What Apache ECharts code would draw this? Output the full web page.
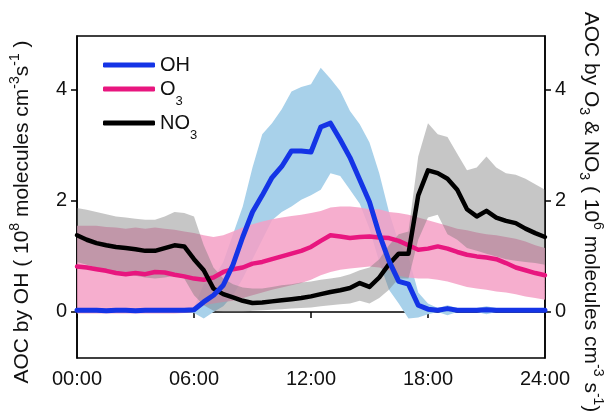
<!DOCTYPE html>
<html>
<head>
<meta charset="utf-8">
<script src="https://cdn.jsdelivr.net/npm/echarts@6/dist/echarts.min.js"></script>
<style>html,body{margin:0;padding:0;background:#fff;}#c{width:613px;height:419px;}</style>
</head>
<body>
<div id="c"></div>
<script>
// Hour of day (x)
const hours = [0,0.5,1,1.5,2,2.5,3,3.5,4,4.5,5,5.5,6,6.5,7,7.5,8,8.5,9,9.5,10,10.5,11,11.5,12,12.5,13,13.5,14,14.5,15,15.5,16,16.5,17,17.5,18,18.5,19,19.5,20,20.5,21,21.5,22,22.5,23,23.5,24];
const xTicks = [0, 6, 12, 18, 24];
const yTicks = [0, 2, 4];

// AOC by OH (1e8 molecules cm-3 s-1): mean, upper, lower
const ohMean  = [0.03,0.03,0.03,0.02,0.03,0.03,0.02,0.03,0.03,0.03,0.03,0.03,0.04,0.18,0.30,0.48,0.85,1.35,1.80,2.10,2.42,2.62,2.90,2.90,2.88,3.33,3.40,3.10,2.78,2.38,1.98,1.40,0.92,0.55,0.50,0.12,0.05,0.03,0.06,0.03,0.03,0.03,0.04,0.03,0.03,0.03,0.03,0.03,0.03];
const ohUpper = [0.07,0.07,0.07,0.07,0.07,0.07,0.07,0.07,0.07,0.07,0.07,0.07,0.08,0.50,0.60,0.90,1.40,1.90,2.60,3.20,3.40,3.65,3.97,4.05,4.10,4.40,4.20,3.98,3.62,3.38,3.05,2.50,1.80,1.25,1.00,0.35,0.15,0.07,0.12,0.07,0.07,0.07,0.10,0.07,0.07,0.07,0.07,0.07,0.07];
const ohLower = [0.00,0.00,0.00,0.00,0.00,0.00,0.00,0.00,0.00,0.00,0.00,0.00,-0.02,-0.12,0.00,0.10,0.30,0.60,0.95,1.30,1.65,1.80,1.90,2.02,2.10,2.20,2.50,2.45,2.20,1.95,1.50,0.90,0.40,0.15,-0.12,-0.10,-0.04,0.00,-0.06,0.00,0.00,0.00,-0.04,0.00,0.00,0.00,0.00,0.00,0.00];

// AOC by O3 (1e6 molecules cm-3 s-1)
const o3Mean  = [0.82,0.80,0.77,0.74,0.70,0.68,0.70,0.68,0.72,0.71,0.67,0.64,0.60,0.58,0.62,0.72,0.77,0.80,0.87,0.90,0.95,1.00,1.05,1.10,1.17,1.28,1.38,1.36,1.33,1.35,1.36,1.34,1.33,1.28,1.20,1.12,1.14,1.18,1.14,1.08,1.03,1.00,0.98,0.95,0.88,0.80,0.75,0.70,0.66];
const o3Upper = [1.55,1.55,1.55,1.53,1.52,1.50,1.52,1.50,1.52,1.50,1.48,1.45,1.42,1.38,1.35,1.38,1.45,1.52,1.58,1.63,1.67,1.70,1.73,1.75,1.78,1.82,1.88,1.90,1.90,1.88,1.85,1.85,1.80,1.78,1.75,1.70,1.65,1.60,1.55,1.50,1.47,1.43,1.40,1.38,1.35,1.32,1.27,1.20,1.15];
const o3Lower = [-0.03,-0.03,-0.03,-0.03,-0.03,-0.03,-0.03,-0.03,-0.03,-0.03,-0.03,-0.02,0.00,0.12,0.15,0.18,0.20,0.25,0.30,0.35,0.40,0.44,0.48,0.52,0.58,0.66,0.72,0.76,0.78,0.80,0.82,0.80,0.75,0.65,0.62,0.60,0.60,0.58,0.55,0.50,0.45,0.42,0.40,0.37,0.35,0.32,0.28,0.25,0.22];

// AOC by NO3 (1e6 molecules cm-3 s-1)
const no3Mean  = [1.38,1.30,1.24,1.20,1.17,1.15,1.13,1.10,1.10,1.15,1.20,1.18,0.95,0.75,0.42,0.32,0.26,0.20,0.16,0.17,0.19,0.21,0.23,0.25,0.28,0.32,0.36,0.39,0.43,0.52,0.45,0.62,0.86,1.05,1.05,2.10,2.55,2.50,2.40,2.20,1.85,1.72,1.82,1.70,1.64,1.60,1.50,1.42,1.35];
const no3Upper = [1.87,1.84,1.80,1.76,1.72,1.70,1.68,1.66,1.66,1.72,1.80,1.78,1.72,1.20,0.80,0.60,0.50,0.44,0.42,0.42,0.45,0.48,0.50,0.53,0.55,0.58,0.60,0.63,0.68,0.75,0.80,0.95,1.20,1.40,1.45,2.80,3.40,3.20,3.15,2.85,2.55,2.60,2.80,2.60,2.50,2.47,2.40,2.30,2.20];
const no3Lower = [0.90,0.85,0.80,0.75,0.70,0.67,0.65,0.62,0.60,0.62,0.65,0.60,0.30,0.12,0.02,0.00,0.00,0.00,0.02,0.03,0.04,0.05,0.06,0.07,0.08,0.10,0.12,0.14,0.15,0.20,0.15,0.25,0.40,0.60,0.60,1.30,1.70,1.75,1.40,1.30,1.15,1.10,1.05,1.00,0.95,0.92,0.90,0.88,0.85];

const FONT = '"Liberation Sans", Arial, sans-serif';

function pairs(vals){ return hours.map((h,i)=>[h, vals[i]]); }

// Shaded variability band drawn through the cartesian coordinate system
function band(name, lo, up, color){
  return {
    name: name+'_band', type:'custom', coordinateSystem:'cartesian2d',
    xAxisIndex:0, yAxisIndex:0, silent:true, clip:true,
    data: [[hours[0], lo[0]]],
    renderItem: function(params, api){
      const pts = [];
      for (let i = 0; i < hours.length; i++) pts.push(api.coord([hours[i], up[i]]));
      for (let i = hours.length - 1; i >= 0; i--) pts.push(api.coord([hours[i], lo[i]]));
      return {type:'polygon', shape:{points:pts}, style:{fill:color}};
    }
  };
}
function meanLine(name, vals, color, yIdx, w){
  return {name: name, type:'line', data: pairs(vals), yAxisIndex: yIdx, symbol:'none',
    color: color, lineStyle:{color: color, width:w, cap:'round', join:'round'}};
}

const rich = {
  a:{fontFamily:FONT, fontSize:21, color:'#111', lineHeight:28, verticalAlign:'middle'},
  sup:{fontFamily:FONT, fontSize:14, color:'#111', lineHeight:14, verticalAlign:'top'},
  sub:{fontFamily:FONT, fontSize:14, color:'#111', lineHeight:14, verticalAlign:'bottom'}
};
const legRich = {
  a:{fontFamily:FONT, fontSize:20, color:'#111', lineHeight:22, verticalAlign:'middle'},
  sub:{fontFamily:FONT, fontSize:13, color:'#111', lineHeight:13, verticalAlign:'bottom', padding:[0,0,-8,0]}
};
const legendLabels = {OH:'{a|OH}', O3:'{a|O}{sub|3}', NO3:'{a|NO}{sub|3}'};
function legend(name, top){
  return {data:[name], left:103, top: top, orient:'horizontal', padding:0,
    icon:'roundRect', itemWidth:52, itemHeight:5, itemGap:0, selectedMode:false,
    formatter: n => legendLabels[n], textStyle:{rich: legRich, padding:[0,0,0,0]}};
}

const chart = echarts.init(document.getElementById('c'), null, {renderer:'canvas'});
chart.setOption({
  animation:false,
  backgroundColor:'#fff',
  textStyle:{fontFamily:FONT},
  grid:{left:76, right:57, top:36, bottom:61, show:true, borderColor:'#000', borderWidth:1.5, backgroundColor:'transparent'},
  legend:[legend('OH', 55), legend('O3', 79), legend('NO3', 113)],
  xAxis:{type:'value', min:0, max:24, interval:6,
    axisLine:{lineStyle:{color:'#000', width:1.5}},
    axisTick:{inside:false, length:6, lineStyle:{color:'#000', width:1.5}},
    axisLabel:{fontFamily:FONT, fontSize:20, color:'#111', margin:11,
      formatter: v => (v<10?'0':'')+v+':00'},
    splitLine:{show:false}},
  yAxis:[
    {type:'value', min:-0.83, max:4.97, position:'left',
     axisLine:{show:true, lineStyle:{color:'#000', width:1.5}},
     axisTick:{show:true, length:6, customValues:yTicks, lineStyle:{color:'#000', width:1.5}},
     axisLabel:{fontFamily:FONT, fontSize:20, color:'#111', margin:10, customValues:yTicks},
     splitLine:{show:false},
     name:'{a|AOC by OH ( 10}{sup|8}{a| molecules cm}{sup|-3}{a|s}{sup|-1}{a| )}',
     nameLocation:'middle', nameRotate:90, nameGap:41,
     nameTextStyle:{rich:rich, padding:[0,30,0,0]}},
    {type:'value', min:-0.83, max:4.97, position:'right',
     axisLine:{show:true, lineStyle:{color:'#000', width:1.5}},
     axisTick:{show:true, length:6, customValues:yTicks, lineStyle:{color:'#000', width:1.5}},
     axisLabel:{fontFamily:FONT, fontSize:20, color:'#111', margin:10, customValues:yTicks},
     splitLine:{show:false},
     name:'{a|AOC by O}{sub|3}{a| & NO}{sub|3}{a| ( 10}{sup|6}{a| molecules cm}{sup|-3}{a| s}{sup|-1}{a|)}',
     nameLocation:'middle', nameRotate:-90, nameGap:31,
     nameTextStyle:{rich:rich, padding:[0,0,0,30]}}
  ],
  series:[
    band('OH', ohLower, ohUpper, '#a8d1ea'),
    band('O3', o3Lower, o3Upper, 'rgba(245,160,197,0.85)'),
    meanLine('O3', o3Mean, '#e8167f', 1, 4.5),
    band('NO3', no3Lower, no3Upper, 'rgba(120,120,120,0.42)'),
    meanLine('NO3', no3Mean, '#000000', 1, 4.5),
    meanLine('OH', ohMean, '#1434e6', 0, 5)
  ]
});
</script>
</body>
</html>
